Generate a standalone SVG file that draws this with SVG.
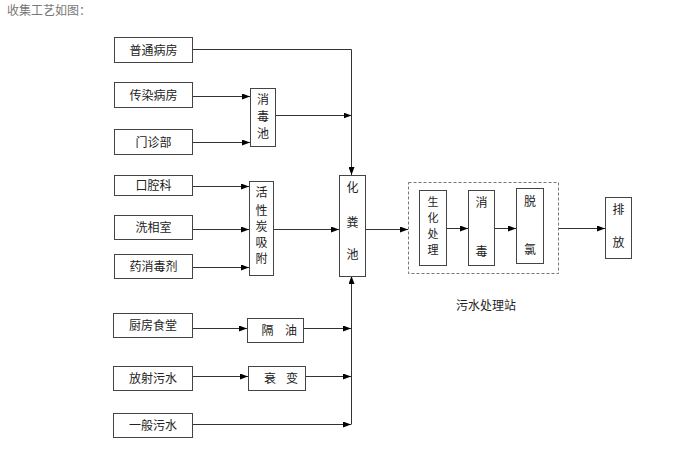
<svg xmlns="http://www.w3.org/2000/svg" width="675" height="454" viewBox="0 0 675 454">
<defs>
<marker id="ah" markerWidth="8" markerHeight="6" refX="8" refY="3" orient="auto" markerUnits="userSpaceOnUse">
<path d="M0,0 L8,3 L0,6 Z" fill="#000"/>
</marker>
<style>
rect.b{fill:#fff;stroke:#444;stroke-width:1}
text{font-family:"Noto Sans CJK SC","Noto Sans CJK JP",sans-serif;font-size:12px;fill:#222}
text.c{text-anchor:middle}
text.s{font-size:11px}
.ln{fill:none;stroke:#333;stroke-width:1}
.ar{fill:none;stroke:#333;stroke-width:1;marker-end:url(#ah)}
</style>
</defs>
<rect width="675" height="454" fill="#fff"/>
<text x="7" y="15" style="fill:#777">收集工艺如图：</text>

<g id="connectors">
<polyline class="ar" points="192,49.5 351.5,49.5 351.5,175"/>
<line class="ar" x1="192" y1="96.5" x2="250" y2="96.5"/>
<line class="ar" x1="192" y1="142.5" x2="250" y2="142.5"/>
<line class="ar" x1="275" y1="115.5" x2="351.5" y2="115.5"/>
<line class="ar" x1="192" y1="186.5" x2="249" y2="186.5"/>
<line class="ar" x1="192" y1="229.5" x2="249" y2="229.5"/>
<line class="ar" x1="192" y1="267.5" x2="249" y2="267.5"/>
<line class="ar" x1="273" y1="229.5" x2="339" y2="229.5"/>
<line class="ar" x1="192" y1="328.5" x2="247" y2="328.5"/>
<line class="ar" x1="303" y1="328.5" x2="351" y2="328.5"/>
<line class="ar" x1="192" y1="376.5" x2="248" y2="376.5"/>
<line class="ar" x1="305" y1="376.5" x2="351" y2="376.5"/>
<line class="ar" x1="192" y1="424.5" x2="351" y2="424.5"/>
<line class="ar" x1="351.5" y1="424.5" x2="351.5" y2="276"/>
<line class="ar" x1="365" y1="229.5" x2="408" y2="229.5"/>
<line class="ar" x1="446" y1="228.5" x2="468" y2="228.5"/>
<line class="ar" x1="494" y1="228.5" x2="516" y2="228.5"/>
<line class="ar" x1="558" y1="228.5" x2="605" y2="228.5"/>
</g>

<g id="n-putong"><rect class="b" x="114.5" y="37.5" width="78" height="25"/><text class="c" x="153.5" y="54.5">普通病房</text></g>
<g id="n-chuanran"><rect class="b" x="114.5" y="82.5" width="78" height="25"/><text class="c" x="153.5" y="99.5">传染病房</text></g>
<g id="n-menzhen"><rect class="b" x="114.5" y="129.5" width="78" height="25"/><text class="c" x="153.5" y="146.5">门诊部</text></g>
<g id="n-xiaoduchi"><rect class="b" x="250.5" y="88.5" width="25" height="58"/>
<text class="c" x="263" y="104">消</text><text class="c" x="263" y="121">毒</text><text class="c" x="263" y="138">池</text></g>

<g id="n-kouqiang"><rect class="b" x="114.5" y="175.5" width="78" height="20"/><text class="c" x="153.5" y="190">口腔科</text></g>
<g id="n-xixiang"><rect class="b" x="114.5" y="215.5" width="78" height="24"/><text class="c" x="153.5" y="232">洗相室</text></g>
<g id="n-yao"><rect class="b" x="114.5" y="254.5" width="78" height="24"/><text class="c" x="153.5" y="271">药消毒剂</text></g>
<g id="n-huoxing"><rect class="b" x="249.5" y="181.5" width="24" height="94"/>
<text class="c" x="261.5" y="197">活</text><text class="c" x="261.5" y="215">性</text><text class="c" x="261.5" y="231">炭</text><text class="c" x="261.5" y="247">吸</text><text class="c" x="261.5" y="263">附</text></g>

<g id="n-huafen"><rect class="b" x="339.5" y="175.5" width="26" height="101"/>
<text class="c" x="352.5" y="192">化</text><text class="c" x="352.5" y="227">粪</text><text class="c" x="352.5" y="259">池</text></g>

<g id="n-chufang"><rect class="b" x="113.5" y="313.5" width="79" height="24"/><text class="c" x="153" y="330">厨房食堂</text></g>
<g id="n-geyou"><rect class="b" x="247.5" y="318.5" width="56" height="24"/><text class="c" x="267.5" y="335">隔</text><text class="c" x="291" y="335">油</text></g>
<g id="n-fangshe"><rect class="b" x="113.5" y="366.5" width="79" height="24"/><text class="c" x="153" y="383">放射污水</text></g>
<g id="n-shuaibian"><rect class="b" x="248.5" y="366.5" width="57" height="24"/><text class="c" x="270" y="383">衰</text><text class="c" x="292" y="383">变</text></g>
<g id="n-yiban"><rect class="b" x="113.5" y="413.5" width="79" height="24"/><text class="c" x="153" y="430">一般污水</text></g>

<g id="n-station"><rect x="408.5" y="182.5" width="150" height="91" fill="none" stroke="#777" stroke-dasharray="3,2"/>
<text class="c" x="486" y="310">污水处理站</text></g>
<g id="n-shenghua"><rect class="b" x="419.5" y="190.5" width="27" height="75"/>
<text class="c s" x="433" y="206">生</text><text class="c s" x="433" y="222">化</text><text class="c s" x="433" y="238">处</text><text class="c s" x="433" y="254">理</text></g>
<g id="n-xiaodu"><rect class="b" x="468.5" y="190.5" width="26" height="75"/>
<text class="c" x="481.5" y="207">消</text><text class="c" x="481.5" y="256">毒</text></g>
<g id="n-tuolv"><rect class="b" x="516.5" y="188.5" width="27" height="75"/>
<text class="c" x="530" y="206">脱</text><text class="c" x="530" y="254">氯</text></g>
<g id="n-paifang"><rect class="b" x="605.5" y="197.5" width="26" height="61"/>
<text class="c" x="618.5" y="214">排</text><text class="c" x="618.5" y="247">放</text></g>
</svg>
